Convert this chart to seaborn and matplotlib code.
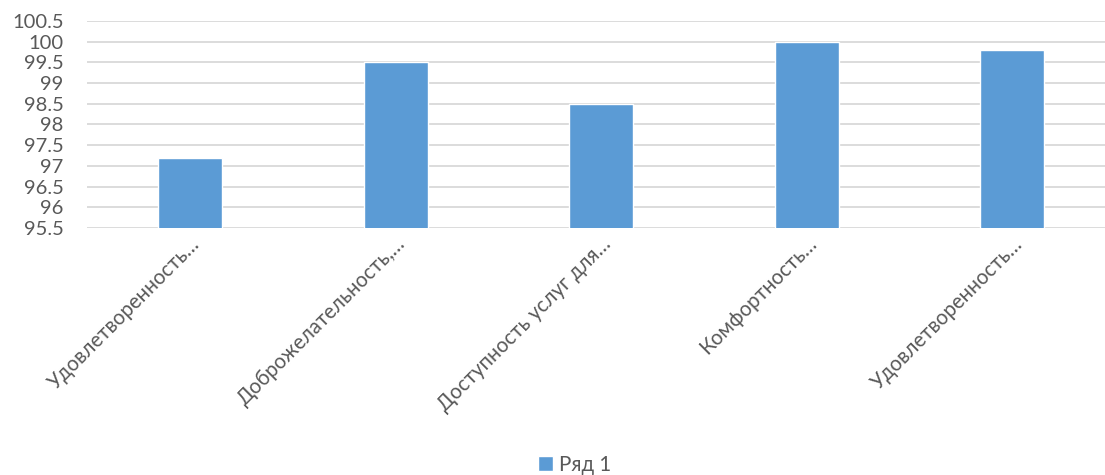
import pandas as pd
import numpy as np
import matplotlib
matplotlib.use('Agg')
import matplotlib.pyplot as plt
import seaborn as sns

# data
categories = ['Удовлетворенность…', 'Доброжелательность,…', 'Доступность услуг для…',
              'Комфортность…', 'Удовлетворенность…']
values = [97.2, 99.5, 98.5, 100.0, 99.8]
series_name = 'Ряд 1'
yticks = [95.5, 96, 96.5, 97, 97.5, 98, 98.5, 99, 99.5, 100, 100.5]

sns.set_style('white')
plt.rcParams['font.family'] = ['Lato', 'DejaVu Sans']

df = pd.DataFrame({'pos': range(len(categories)), 'value': values, 'series': series_name})

fig = plt.figure(figsize=(11.05, 4.75), dpi=100)
# plot area runs a little past the right edge, as in the reference
ax = fig.add_axes([0.079, 0.52, 0.930, 0.4358])

sns.barplot(data=df, x='pos', y='value', hue='series', palette=['#5B9BD5'],
            saturation=1, width=0.311, ax=ax, zorder=3, legend=True)

ax.set_ylim(95.5, 100.5)
ax.set_yticks(yticks)
ax.set_yticklabels([f'{t:g}' for t in yticks], fontsize=14.5, color='#595959')
ax.yaxis.grid(True, color='#D9D9D9', linewidth=1.3, zorder=0)
ax.set_axisbelow(True)
ax.set_xlim(-0.5, len(categories) - 0.5)
ax.set_xticks(range(len(categories)))
ax.set_xticklabels(categories, rotation=45, ha='right', rotation_mode='anchor',
                   fontsize=14.8, color='#595959')
ax.tick_params(axis='x', length=0, pad=4)
ax.tick_params(axis='y', length=0, pad=17)
ax.set_xlabel('')
ax.set_ylabel('')
for s in ax.spines.values():
    s.set_visible(False)

leg = ax.legend(loc='center', bbox_to_anchor=(0.52, 0.022), bbox_transform=fig.transFigure,
                frameon=False, fontsize=14.8, handlelength=0.7, handleheight=0.7,
                handletextpad=0.3)
for t in leg.get_texts():
    t.set_color('#595959')

fig.savefig('out.png', dpi=100)
